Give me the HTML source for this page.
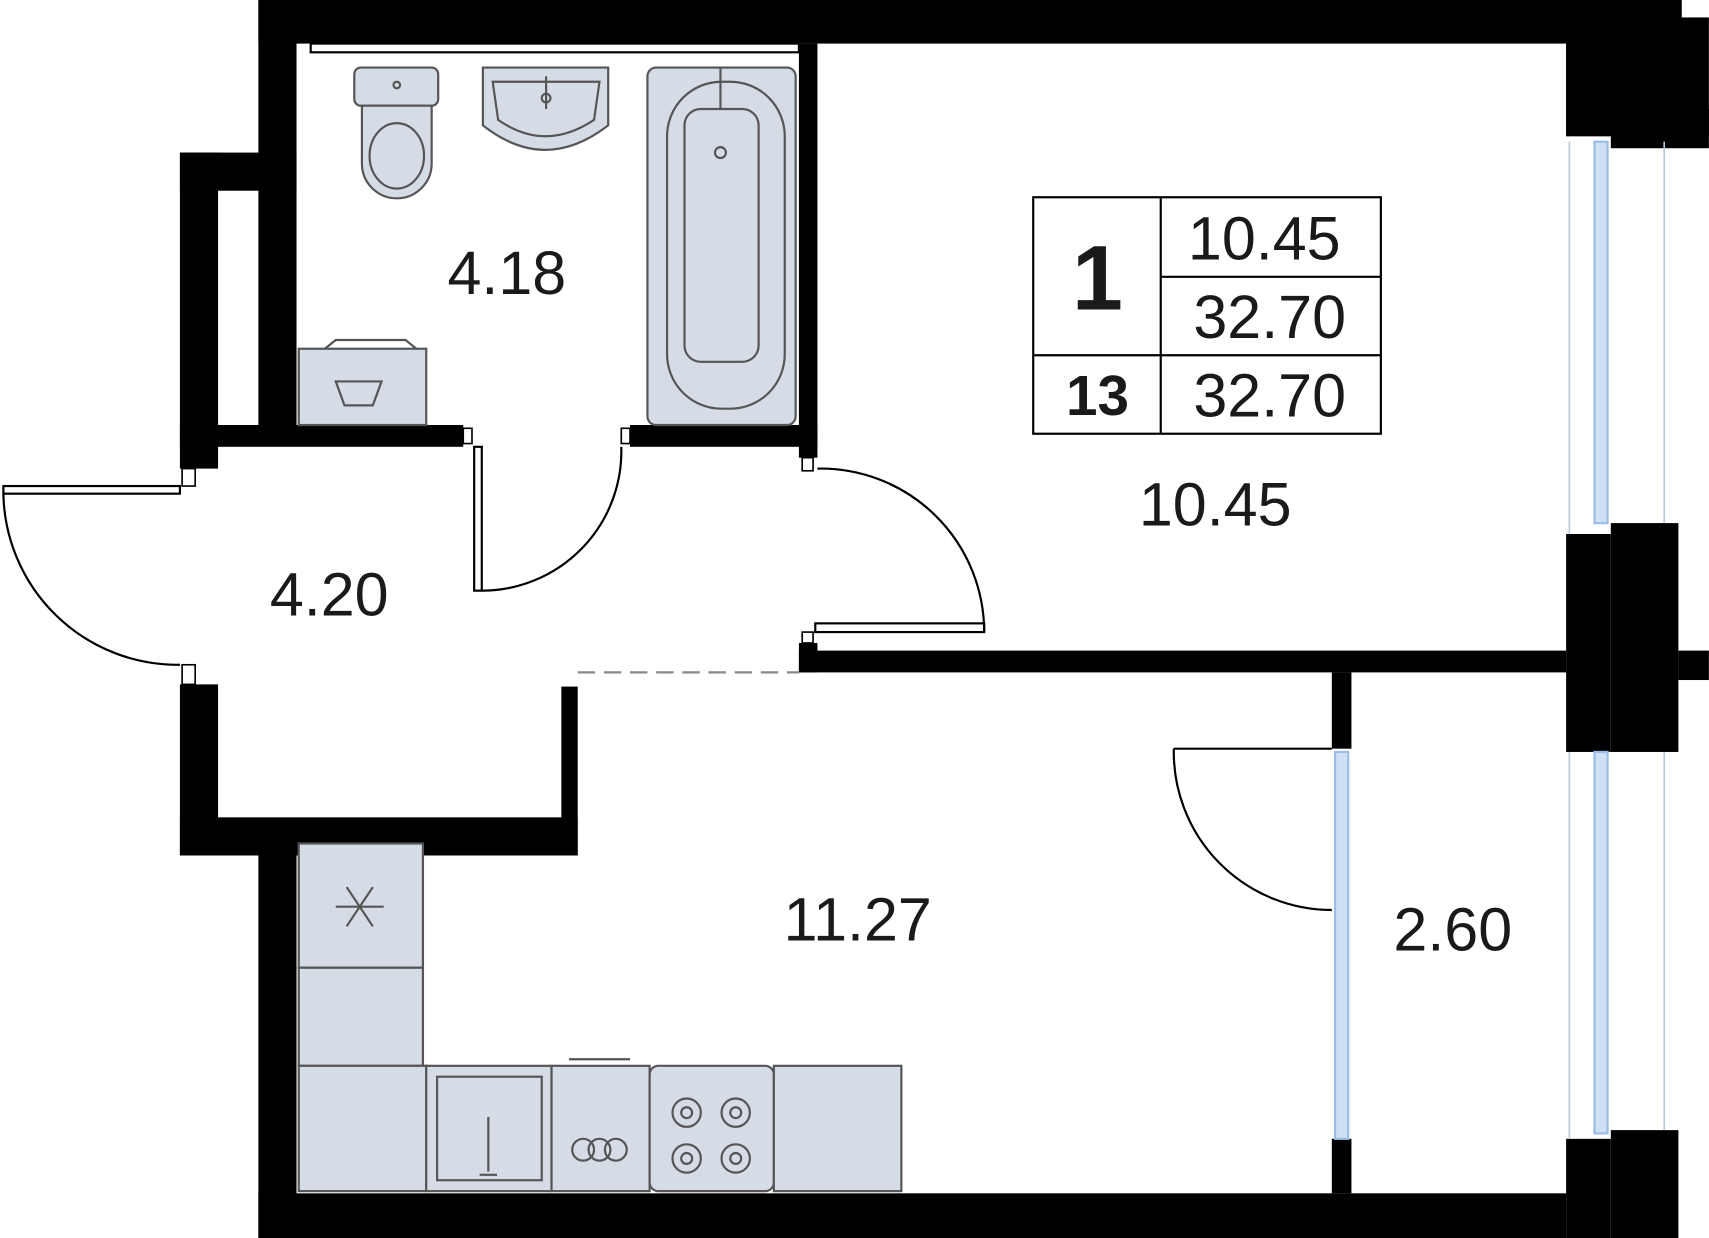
<!DOCTYPE html>
<html><head><meta charset="utf-8"><style>
html,body{margin:0;padding:0;background:#fff;}
svg{display:block;}
text{font-family:"Liberation Sans",sans-serif;fill:#1a1a1a;}
</style></head><body>
<svg width="1709" height="1238" viewBox="0 0 1568 1136" xmlns="http://www.w3.org/2000/svg">
<rect width="1568" height="1136" fill="#fff"/>
<g fill="#000">
<rect x="237" y="0" width="1306" height="40"/>
<rect x="1437" y="0" width="106" height="125"/>
<rect x="1437" y="16" width="131" height="109"/>
<rect x="1478" y="100" width="90" height="36"/>
<rect x="237" y="0" width="35" height="140"/>
<rect x="165" y="140" width="107" height="35"/>
<rect x="165" y="140" width="35" height="290"/>
<rect x="237" y="140" width="35" height="260"/>
<rect x="165" y="390" width="260" height="20"/>
<rect x="578" y="390" width="172" height="20"/>
<rect x="733" y="40" width="17" height="380"/>
<rect x="733" y="597" width="704" height="20"/>
<rect x="733" y="590" width="17" height="27"/>
<rect x="1437" y="490" width="41" height="200"/>
<rect x="1478" y="480" width="62" height="210"/>
<rect x="1540" y="597" width="28" height="27"/>
<rect x="1437" y="1045" width="41" height="91"/>
<rect x="1478" y="1037" width="62" height="99"/>
<rect x="165" y="628" width="35" height="157"/>
<rect x="165" y="750" width="365" height="35"/>
<rect x="515" y="630" width="15" height="155"/>
<rect x="237" y="770" width="35" height="366"/>
<rect x="237" y="1095" width="1200" height="41"/>
<rect x="1222" y="617" width="18" height="70"/>
<rect x="1222" y="1045" width="18" height="50"/>
</g>
<rect x="285" y="40" width="448" height="8" fill="#fff" stroke="#000" stroke-width="2"/>
<g fill="#fff" stroke="#000" stroke-width="1.5">
<rect x="425" y="393" width="8" height="14"/><rect x="570" y="393" width="8" height="14"/>
<rect x="736" y="420" width="10" height="12"/><rect x="736" y="580" width="10" height="10"/>
<rect x="167" y="430" width="12" height="16"/><rect x="167" y="610" width="12" height="18"/>
</g>
<g stroke="#9bbde6" stroke-width="2" fill="#cfe0f5">
<rect x="1463" y="130" width="12" height="350"/>
<rect x="1463" y="690" width="12" height="350"/>
<rect x="1225" y="690" width="12" height="355"/>
</g>
<g stroke="#b8c8dc" stroke-width="1.5">
<line x1="1440" y1="130" x2="1440" y2="490"/><line x1="1527" y1="130" x2="1527" y2="480"/>
<line x1="1440" y1="690" x2="1440" y2="1045"/><line x1="1527" y1="690" x2="1527" y2="1037"/>
</g>
<g fill="none" stroke="#000" stroke-width="2">
<rect x="3" y="446" width="162" height="7"/>
<path d="M3 453 A160 160 0 0 0 165 610"/>
<rect x="435" y="410" width="7" height="132"/>
<path d="M442 542 A128 128 0 0 0 570 410"/>
<rect x="748" y="572" width="155" height="8"/>
<path d="M903 580 A150 150 0 0 0 750 430"/>
<path d="M1077 687 L1222 687 M1077 687 A145 145 0 0 0 1222 835"/>
</g>
<line x1="530" y1="617" x2="733" y2="617" stroke="#888" stroke-width="2" stroke-dasharray="16,8"/>
<g fill="#d6dce6" stroke="#555" stroke-width="2">
<rect x="325" y="62" width="77" height="35" rx="6"/>
<path d="M332 97 L396 97 L396 150 A32 32 0 0 1 332 150 Z"/>
<ellipse cx="364" cy="143" rx="25" ry="30"/>
<path d="M443 62 L558 62 L558 115 Q500 160 443 115 Z"/>
<path d="M452 75 L550 75 L545 110 Q500 140 457 110 Z"/>
<rect x="594" y="62" width="136" height="328" rx="8"/>
<rect x="612" y="75" width="108" height="300" rx="50"/>
<rect x="628" y="100" width="68" height="232" rx="15"/>
<rect x="274" y="320" width="117" height="70"/>
<rect x="274" y="774" width="114" height="114"/>
<rect x="274" y="888" width="114" height="90"/>
<rect x="274" y="978" width="117" height="115"/>
<rect x="391" y="978" width="115" height="115"/>
<rect x="401" y="988" width="96" height="95"/>
<rect x="506" y="978" width="90" height="115"/>
<rect x="596" y="978" width="114" height="115" rx="8"/>
<rect x="710" y="978" width="117" height="115"/>
</g>
<g fill="none" stroke="#555" stroke-width="2">
<circle cx="364" cy="78" r="3"/><circle cx="501" cy="90" r="4"/><circle cx="661" cy="140" r="5"/>
<line x1="501" y1="70" x2="501" y2="100"/><line x1="661" y1="62" x2="661" y2="100"/>
<path d="M298 320 L308 312 L372 312 L382 320"/>
<path d="M308 350 L350 350 L342 372 L316 372 Z"/>
<circle cx="630" cy="1021" r="13"/><circle cx="675" cy="1021" r="13"/><circle cx="630" cy="1063" r="13"/><circle cx="675" cy="1063" r="13"/>
<circle cx="630" cy="1021" r="5"/><circle cx="675" cy="1021" r="5"/><circle cx="630" cy="1063" r="5"/><circle cx="675" cy="1063" r="5"/>
<circle cx="535" cy="1055" r="10"/><circle cx="550" cy="1055" r="10"/><circle cx="565" cy="1055" r="10"/>
<path d="M522 972 L578 972"/>
<path d="M448 1025 L448 1075 M440 1078 L456 1078"/>
<path d="M308 832 L352 832 M318 814 L342 850 M342 814 L318 850"/>
</g>
<g fill="none" stroke="#000" stroke-width="2">
<rect x="948" y="181" width="319" height="217"/>
<line x1="1065" y1="181" x2="1065" y2="398"/>
<line x1="1065" y1="254" x2="1267" y2="254"/>
<line x1="948" y1="326" x2="1267" y2="326"/>
</g>
<text x="1007" y="284" font-size="84" font-weight="bold" text-anchor="middle">1</text>
<text x="1160" y="238" font-size="56" text-anchor="middle">10.45</text>
<text x="1165" y="310" font-size="56" text-anchor="middle">32.70</text>
<text x="1007" y="381" font-size="52" font-weight="bold" text-anchor="middle">13</text>
<text x="1165" y="382" font-size="56" text-anchor="middle">32.70</text>
<text x="465" y="270" font-size="56" text-anchor="middle">4.18</text>
<text x="302" y="565" font-size="56" text-anchor="middle">4.20</text>
<text x="1115" y="482" font-size="56" text-anchor="middle">10.45</text>
<text x="787" y="863" font-size="56" text-anchor="middle">11.27</text>
<text x="1333" y="872" font-size="56" text-anchor="middle">2.60</text>
</svg>
</body></html>
